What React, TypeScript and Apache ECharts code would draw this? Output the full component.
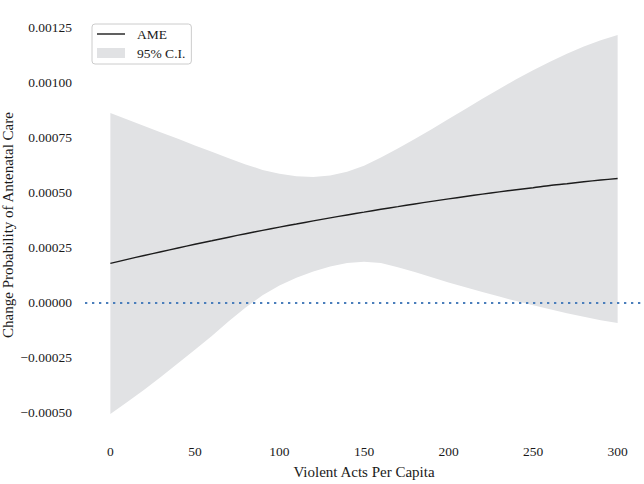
import React, { useEffect, useRef } from "react";
import * as echarts from "echarts";

// x values the model was evaluated at (violent acts per capita)
const X_VALUES = [
  0, 10, 20, 30, 40, 50, 60, 70, 80, 90, 100, 110, 120, 130, 140, 150, 160,
  170, 180, 190, 200, 210, 220, 230, 240, 250, 260, 270, 280, 290, 300,
];

// average marginal effect
const AME_VALUES = [
  0.00018, 0.000198, 0.000216, 0.000233, 0.00025, 0.000267, 0.000283,
  0.000299, 0.000315, 0.00033, 0.000345, 0.000359, 0.000373, 0.000387,
  0.0004, 0.000413, 0.000426, 0.000438, 0.00045, 0.000462, 0.000473,
  0.000484, 0.000495, 0.000505, 0.000515, 0.000524, 0.000534, 0.000542,
  0.000551, 0.000559, 0.000566,
];

// 95% confidence interval bounds
const CI_UPPER = [
  0.000864, 0.000834, 0.000805, 0.000775, 0.000746, 0.000716, 0.000687,
  0.000658, 0.00063, 0.000605, 0.000587, 0.000576, 0.000573, 0.000579,
  0.000596, 0.000624, 0.000661, 0.000702, 0.000745, 0.00079, 0.000836,
  0.000882, 0.000928, 0.000973, 0.001017, 0.001058, 0.001097, 0.001133,
  0.001166, 0.001194, 0.001218,
];

const CI_LOWER = [
  -0.000505, -0.00045, -0.000394, -0.000335, -0.000274, -0.000212,
  -0.00015, -0.000083, -0.00002, 0.000035, 0.00008, 0.000115, 0.000143,
  0.000166, 0.000182, 0.000188, 0.000182, 0.000163, 0.000141, 0.000117,
  0.000093, 0.000071, 0.00005, 0.000029, 0.000009, -0.00001, -0.000029,
  -0.000047, -0.000063, -0.000078, -0.000091,
];

const X_TICKS = [0, 50, 100, 150, 200, 250, 300];
const Y_TICKS = [-0.0005, -0.00025, 0, 0.00025, 0.0005, 0.00075, 0.001, 0.00125];

const FONT = "Liberation Serif";
const BAND_COLOR = "#e1e2e4";
const LINE_COLOR = "#1c1c1c";
const ZERO_COLOR = "#4a7ebb";

const formatY = (v: number) =>
  (v < 0 ? "\u2212" : "") + Math.abs(v).toFixed(5);

// whole CI band drawn as one polygon, upper edge then lower edge backwards
const renderBand = (params: any, api: any) => {
  if (params.dataIndex !== 0) return null;
  const pts: number[][] = [];
  for (let i = 0; i < X_VALUES.length; i++) {
    pts.push(api.coord([X_VALUES[i], CI_UPPER[i]]));
  }
  for (let i = X_VALUES.length - 1; i >= 0; i--) {
    pts.push(api.coord([X_VALUES[i], CI_LOWER[i]]));
  }
  return {
    type: "polygon",
    shape: { points: pts },
    style: { fill: BAND_COLOR },
  };
};

const App: React.FC = () => {
  const chartRef = useRef<HTMLDivElement>(null);

  useEffect(() => {
    if (!chartRef.current) return;
    const chart = echarts.init(chartRef.current, undefined, { renderer: "svg" });

    const option: any = {
      animation: false,
      backgroundColor: "#ffffff",
      textStyle: { fontFamily: FONT },
      grid: { left: 85, right: 1, top: 16, bottom: 50, outerBoundsMode: "none" },
      legend: {
        left: 92,
        top: 24,
        orient: "vertical",
        itemWidth: 28,
        itemHeight: 10,
        itemGap: 5,
        padding: [3, 6, 4, 5],
        borderColor: "#cccccc",
        borderWidth: 1,
        borderRadius: 3,
        backgroundColor: "rgba(255,255,255,0.8)",
        textStyle: {
          fontFamily: FONT,
          fontSize: 13.5,
          color: "#1a1a1a",
          padding: [0, 0, 0, 7],
        },
        data: [
          {
            name: "AME",
            icon: "path://M0,0L28,0L28,1.4L0,1.4Z",
            itemStyle: { color: LINE_COLOR },
          },
          { name: "95% C.I.", icon: "rect", itemStyle: { color: BAND_COLOR } },
        ],
      },
      xAxis: {
        type: "value",
        min: -15,
        max: 315,
        name: "Violent Acts Per Capita",
        nameLocation: "middle",
        nameGap: 30,
        nameMoveOverlap: false,
        nameTextStyle: { fontFamily: FONT, fontSize: 15, color: "#1a1a1a" },
        axisLine: { show: false },
        axisTick: { show: false },
        splitLine: { show: false },
        axisLabel: {
          customValues: X_TICKS,
          margin: 10,
          fontFamily: FONT,
          fontSize: 13.5,
          color: "#1a1a1a",
        },
      },
      yAxis: {
        type: "value",
        min: -0.0005955,
        max: 0.0013045,
        name: "Change Probability of Antenatal Care",
        nameLocation: "middle",
        nameGap: 70,
        nameMoveOverlap: false,
        nameTextStyle: { fontFamily: FONT, fontSize: 15, color: "#1a1a1a" },
        axisLine: { show: false },
        axisTick: { show: false },
        splitLine: { show: false },
        axisLabel: {
          customValues: Y_TICKS,
          margin: 13,
          fontFamily: FONT,
          fontSize: 13.5,
          color: "#1a1a1a",
          formatter: (v: number) => formatY(v),
        },
      },
      series: [
        {
          name: "95% C.I.",
          type: "custom",
          renderItem: renderBand,
          data: X_VALUES.map((x, i) => [x, CI_LOWER[i], CI_UPPER[i]]),
          encode: { x: 0, y: [1, 2] },
          silent: true,
          clip: true,
          itemStyle: { color: BAND_COLOR },
          z: 1,
        },
        {
          name: "AME",
          type: "line",
          data: X_VALUES.map((x, i) => [x, AME_VALUES[i]]),
          symbol: "none",
          smooth: 0.3,
          color: LINE_COLOR,
          lineStyle: { color: LINE_COLOR, width: 1.4 },
          z: 3,
          markLine: {
            silent: true,
            symbol: "none",
            label: { show: false },
            lineStyle: { color: ZERO_COLOR, type: [2.3, 4.7], width: 2 },
            data: [{ yAxis: 0 }],
          },
        },
      ],
    };

    chart.setOption(option);
    return () => chart.dispose();
  }, []);

  return (
    <div
      ref={chartRef}
      style={{ position: "absolute", left: 0, top: 0, width: 644, height: 484 }}
    />
  );
};

export default App;
